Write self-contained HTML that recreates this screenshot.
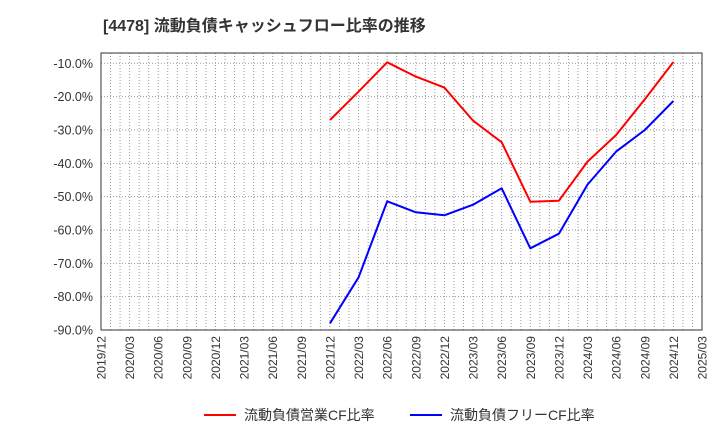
<!DOCTYPE html>
<html><head><meta charset="utf-8"><style>
body{margin:0;background:#fff;font-family:"Liberation Sans","Noto Sans CJK JP",sans-serif;}
</style></head><body>
<svg width="720" height="440" xmlns="http://www.w3.org/2000/svg" id="svg">
<text x="103" y="31" font-size="16" font-weight="bold" fill="#333" font-family="Liberation Sans, Noto Sans CJK JP, sans-serif">[4478]  流動負債キャッシュフロー比率の推移</text>
<g id="grid"></g><g id="axes"></g><g id="series"></g>
<g>
<line x1="204" y1="415" x2="236" y2="415" stroke="#f00" stroke-width="2"/>
<text x="244" y="420" font-size="14" fill="#333" font-family="Liberation Sans, Noto Sans CJK JP, sans-serif">流動負債営業CF比率</text>
<line x1="410" y1="415" x2="442" y2="415" stroke="#00f" stroke-width="2"/>
<text x="450" y="420" font-size="14" fill="#333" font-family="Liberation Sans, Noto Sans CJK JP, sans-serif">流動負債フリーCF比率</text>
</g>
</svg>
<script>
const xLabels=["2019/12","2020/03","2020/06","2020/09","2020/12","2021/03","2021/06","2021/09","2021/12","2022/03","2022/06","2022/09","2022/12","2023/03","2023/06","2023/09","2023/12","2024/03","2024/06","2024/09","2024/12","2025/03"];
const yTicks=[-10,-20,-30,-40,-50,-60,-70,-80,-90];
const seriesStart=8;
const operatingCF=[-27,-18.5,-9.7,-14,-17.3,-27.2,-33.7,-51.5,-51.2,-39.5,-31.5,-20.8,-9.6];
const freeCF=[-88,-74.2,-51.4,-54.7,-55.6,-52.4,-47.5,-65.5,-61.1,-46.4,-36.5,-30,-21.3];
const L=101,R=702,T=53,B=330;
const NS="http://www.w3.org/2000/svg";
const xq=i=>L+(R-L)*i/(xLabels.length-1);
const yv=v=>63.3+(-10-v)*(B-63.3)/80;
function mk(tag,attrs,parent){const e=document.createElementNS(NS,tag);for(const k in attrs)e.setAttribute(k,attrs[k]);document.getElementById(parent).appendChild(e);return e;}
const nMonths=(xLabels.length-1)*3;
for(let m=1;m<nMonths;m++){
 const x=L+(R-L)*m/nMonths;
 const g=mk('line',{x1:x,y1:T,x2:x,y2:B,stroke:'#999','stroke-width':1,'stroke-dasharray':'1,2'},'grid');
 
 
}
yTicks.forEach(v=>{
 const y=yv(v);
 const g=mk('line',{x1:L,y1:y,x2:R,y2:y,stroke:'#999','stroke-width':1,'stroke-dasharray':'1,2'},'grid');
 
 
 const t=mk('text',{x:L-8,y:y+4.5,'text-anchor':'end','font-size':12.5,fill:'#333','font-family':'Liberation Sans, sans-serif'},'axes');
 t.textContent=v.toFixed(1)+'%';
 
 
});
xLabels.forEach((s,i)=>{
 const x=xq(i);
 const t=mk('text',{x:0,y:0,'text-anchor':'end','font-size':12,fill:'#333','font-family':'Liberation Sans, sans-serif',transform:`translate(${x+4.5},${B+6}) rotate(-90)`},'axes');
 t.textContent=s;
 
 
});
const frame=mk('rect',{x:L,y:T,width:R-L,height:B-T,fill:'none',stroke:'#333','stroke-width':1},'axes');


function draw(arr,color,name){
 const pts=arr.map((v,i)=>xq(seriesStart+i).toFixed(1)+','+yv(v).toFixed(1)).join(' ');
 const p=mk('polyline',{points:pts,fill:'none',stroke:color,'stroke-width':2,'stroke-linejoin':'round'},'series');
 
 
}
draw(operatingCF,'#f00','operating-cf-line');
draw(freeCF,'#00f','free-cf-line');
</script>
</body></html>
